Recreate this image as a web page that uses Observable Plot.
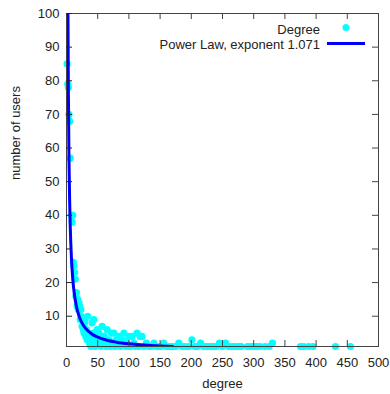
<!DOCTYPE html>
<html>
<head>
<meta charset="utf-8">
<script src="https://cdn.jsdelivr.net/npm/d3@7"></script>
<script src="https://cdn.jsdelivr.net/npm/@observablehq/plot@0.6"></script>
<style>
  html, body { margin: 0; padding: 0; background: #fff; }
  #chart { width: 390px; height: 394px; }
</style>
</head>
<body>
<div id="chart"></div>
<script>
// Observed degree distribution (degree -> number of users)
const degrees = [1,2,3,4,5,6,8,9,10,11,12,13,14,15,16,17,18,19,20,21,22,23,24,25,26,27,28,29,30,31,32,33,34,35,36,37,38,39,40,41,42,43,44,45,46,47,48,49,50,52,53,55,57,58,60,62,63,65,67,68,70,72,74,76,78,80,82,84,86,88,90,92,95,97,100,102,105,108,110,113,116,118,121,124,128,132,136,140,144,148,152,156,160,165,170,175,180,185,190,196,201,206,210,215,220,225,230,235,240,245,250,255,260,265,270,276,280,290,295,300,305,310,318,325,330,375,380,388,395,431,455];
const users   = [85,79,78,70,68,57,40,38,40,26,25,23,21,16,17,13,15,12,14,13,9,12,10,7,9,6,5,8,9,4,6,3,10,5,4,2,3,1,4,8,2,5,9,3,1,4,2,6,2,5,3,1,7,2,4,3,1,6,2,3,1,5,2,5,1,3,2,4,1,2,3,5,1,2,4,1,4,2,1,5,1,4,4,1,2,1,1,2,1,1,1,2,1,1,1,1,2,1,1,1,3,1,1,2,1,1,1,1,1,2,1,2,1,1,1,1,1,1,1,1,1,1,1,1,2,1,1,1,1,1,1];

// Fitted power-law curve (exponent 1.071)
const fitX = [2.35,3,4,5,6,8,10,13,16,20,25,30,40,50,65,80,100,125,150,170];
const fitY = [100,77.1,56.6,44.6,36.7,27.0,21.2,16.0,12.8,10.1,7.96,6.54,4.81,3.79,2.86,2.29,1.80,1.42,1.17,1.02];

const xTicks = [0,50,100,150,200,250,300,350,400,450,500];
const yTicks = [10,20,30,40,50,60,70,80,90,100];
const legendLabels = ["Degree", "Power Law, exponent 1.071"];

const points = degrees.map((d, i) => ({degree: d, users: users[i]}));
const fit = fitX.map((x, i) => ({x, y: fitY[i]}));

const W = 390, H = 394;
const mL = 66, mR = 12, mT = 13, mB = 48;
const innerW = W - mL - mR, innerH = H - mT - mB;
const tickLen = 6;

function legend(index, scales, values, dims) {
  const width = dims && dims.width ? dims.width : W;
  const right = width - (dims && dims.marginRight != null ? dims.marginRight : mR);
  const top = (dims && dims.marginTop != null ? dims.marginTop : mT);
  const g = d3.create("svg:g");
  const tx = right - 58;
  g.append("text").attr("x", tx).attr("y", top + 16).attr("text-anchor", "end")
    .attr("dy", "0.35em").attr("fill", "#222").text(legendLabels[0]);
  g.append("circle").attr("cx", right - 32).attr("cy", top + 14.5).attr("r", 3.5).attr("fill", "#00ffff");
  g.append("text").attr("x", tx).attr("y", top + 31.5).attr("text-anchor", "end")
    .attr("dy", "0.35em").attr("fill", "#222").text(legendLabels[1]);
  g.append("line").attr("x1", right - 51).attr("x2", right - 13)
    .attr("y1", top + 30.5).attr("y2", top + 30.5)
    .attr("stroke", "#0000ff").attr("stroke-width", 3);
  return g.node();
}

const chart = Plot.plot({
  width: W,
  height: H,
  marginLeft: mL,
  marginRight: mR,
  marginTop: mT,
  marginBottom: mB,
  style: {fontFamily: "'Liberation Sans', Arial, sans-serif", fontSize: "13px", color: "#222", background: "#fff"},
  x: {domain: [0, 500], axis: null},
  y: {domain: [1, 100], axis: null},
  marks: [
    Plot.dot(points, {x: "degree", y: "users", r: 3.6, fill: "#00ffff", stroke: "none"}),
    Plot.line(fit, {x: "x", y: "y", stroke: "#0000ff", strokeWidth: 3, curve: "monotone-x", clip: true}),
    Plot.frame({stroke: "#444", strokeWidth: 1}),
    Plot.tickX(xTicks, {x: d => d, insetTop: innerH - tickLen, stroke: "#444"}),
    Plot.tickX(xTicks, {x: d => d, insetBottom: innerH - tickLen, stroke: "#444"}),
    Plot.tickY(yTicks, {y: d => d, insetRight: innerW - tickLen, stroke: "#222"}),
    Plot.tickY(yTicks, {y: d => d, insetLeft: innerW - tickLen, stroke: "#444"}),
    Plot.text(xTicks, {x: d => d, frameAnchor: "bottom", dy: 20, text: d => String(d), fill: "#222"}),
    Plot.text(yTicks, {y: d => d, frameAnchor: "left", dx: -7, textAnchor: "end", text: d => String(d), fill: "#222"}),
    Plot.text(["number of users"], {frameAnchor: "left", dx: -51, rotate: -90, text: d => d, fill: "#222"}),
    Plot.text(["degree"], {frameAnchor: "bottom", dy: 41, text: d => d, fill: "#222"}),
    legend
  ]
});
document.getElementById("chart").appendChild(chart);
</script>
</body>
</html>
